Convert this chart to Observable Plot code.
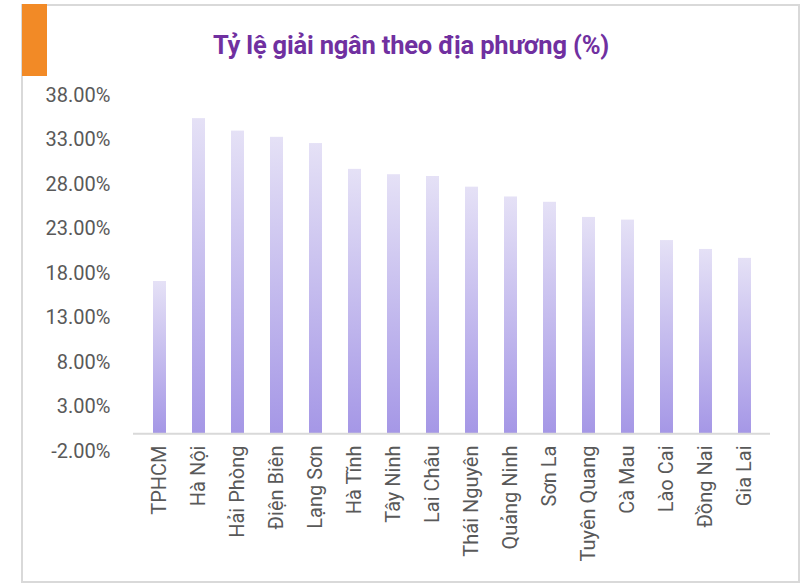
<!DOCTYPE html>
<html><head><meta charset="utf-8">
<script src="https://cdn.jsdelivr.net/npm/d3@7"></script>
<script src="https://cdn.jsdelivr.net/npm/@observablehq/plot@0.6"></script>
<style>
body{margin:0;background:#fff;font-family:Roboto,sans-serif;}
#wrap{position:relative;width:803px;height:586px;overflow:hidden;background:#fff;}
#frame{position:absolute;left:21px;top:4px;width:779px;height:579px;border:2px solid #d9d9d9;box-sizing:border-box;}
#accent{position:absolute;left:22px;top:4px;width:25px;height:72px;background:#F28A26;}
#title{position:absolute;left:0;width:822px;top:30px;text-align:center;color:#7030A0;font-weight:700;font-size:25.5px;font-family:Roboto,sans-serif;letter-spacing:-0.2px;}
#chart{position:absolute;left:0;top:80px;}
</style></head>
<body>
<div id="wrap">
<div id="frame"></div>
<div id="accent"></div>
<div id="title">Tỷ lệ giải ngân theo địa phương (%)</div>
<div id="chart"></div>
</div>
<script>
const provinces = ["TPHCM","Hà Nội","Hải Phòng","Điện Biên","Lạng Sơn","Hà Tĩnh","Tây Ninh","Lai Châu","Thái Nguyên","Quảng Ninh","Sơn La","Tuyên Quang","Cà Mau","Lào Cai","Đồng Nai","Gia Lai"];
const rates = [17.1, 35.4, 34.0, 33.3, 32.6, 29.7, 29.1, 28.9, 27.7, 26.6, 26.0, 24.3, 24.0, 21.7, 20.7, 19.7];
const yTicks = [-2, 3, 8, 13, 18, 23, 28, 33, 38];

const data = provinces.map((p, i) => ({province: p, rate: rates[i]}));

const svg = Plot.plot({
  width: 803,
  height: 500,
  marginTop: 15,
  marginBottom: 129,
  marginLeft: 133,
  marginRight: 33,
  style: {fontSize: "20px", fontFamily: "Roboto, sans-serif", color: "#595959", background: "transparent"},
  x: {domain: provinces, paddingInner: 0.67, paddingOuter: 0.335, label: null},
  y: {domain: [-2, 38], label: null},
  marks: [
    Plot.barY(data, {x: "province", y: "rate", fill: "url(#barGrad)"}),
    Plot.ruleY([0], {stroke: "#d9d9d9", strokeWidth: 2}),
    Plot.axisY({ticks: yTicks, tickFormat: d => d.toFixed(2) + "%", tickSize: 0, tickPadding: 23, label: null}),
    Plot.axisX({tickRotate: -90, tickSize: 0, tickPadding: -6, label: null})
  ]
});

const defs = d3.select(svg).insert("defs", ":first-child");
const g = defs.append("linearGradient").attr("id", "barGrad").attr("x1", 0).attr("y1", 0).attr("x2", 0).attr("y2", 1);
g.append("stop").attr("offset", "0%").attr("stop-color", "#E5E1F6");
g.append("stop").attr("offset", "100%").attr("stop-color", "#A597E6");

document.getElementById("chart").appendChild(svg);
</script>
</body></html>
